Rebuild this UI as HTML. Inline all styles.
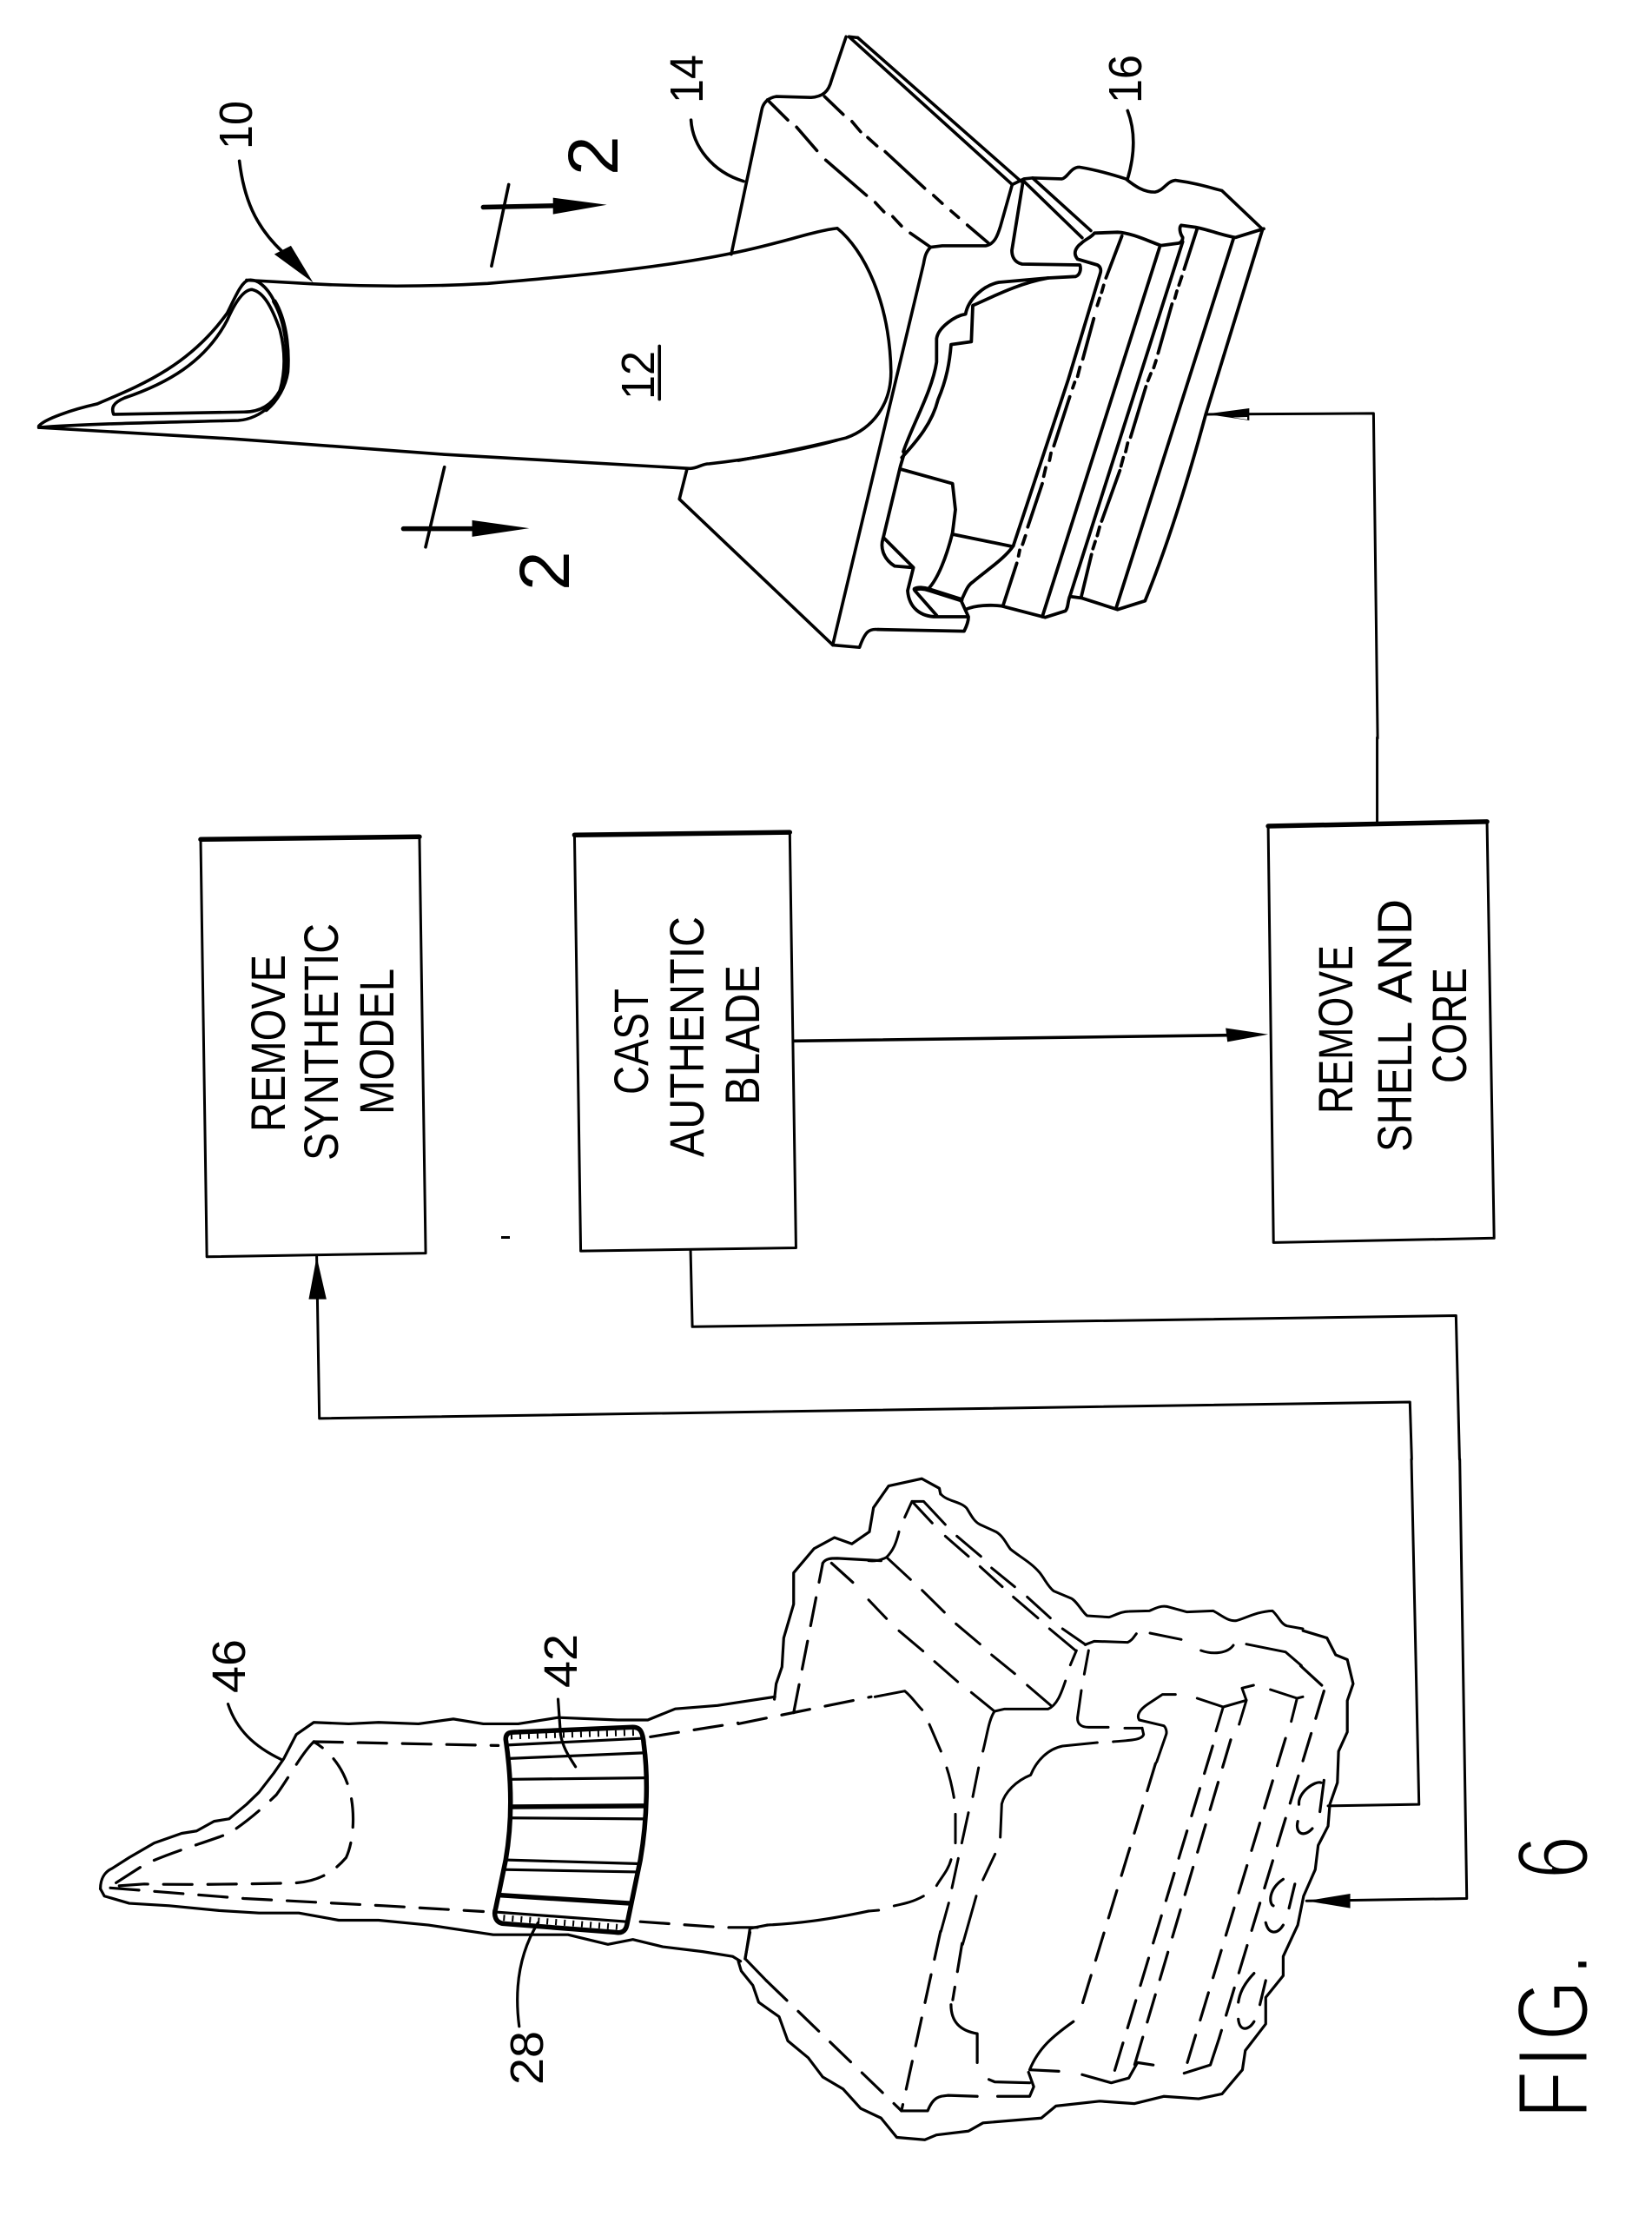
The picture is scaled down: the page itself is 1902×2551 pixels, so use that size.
<!DOCTYPE html>
<html>
<head>
<meta charset="utf-8">
<style>
html,body{margin:0;padding:0;background:#fff;width:1902px;height:2551px;overflow:hidden}
svg{display:block}
path,line,polyline{fill:none;stroke:#000;stroke-width:var(--w,3.6);stroke-linejoin:round;stroke-linecap:round;vector-effect:non-scaling-stroke}
.t{stroke-width:5.5}
.c{stroke-width:3}
.d{stroke-dasharray:33 18}
.h{stroke-width:7;stroke-dasharray:2 8;stroke-linecap:butt}
polygon{fill:#000;stroke:none}
text{font-family:"Liberation Sans",sans-serif;fill:#000}
.l{font-size:56px}
.n{font-size:54px}
</style>
</head>
<body>
<svg width="1902" height="2551" viewBox="0 0 1902 2551" xmlns="http://www.w3.org/2000/svg">
<rect width="1902" height="2551" fill="#fff"/>

<!-- Authentic blade, airfoil part -->
<g transform="scale(.638,.542)">
<path d="M445 595 L565 603 C650 608 760 610 880 602 C1000 590 1180 572 1320 538 C1400 520 1470 490 1510 485"/>
<path d="M70 908 L420 932 L800 965 L1245 995 C1260 995 1265 985 1280 985 C1360 975 1450 955 1510 935"/>
<path d="M70 905 C80 890 130 870 175 858 C250 820 340 780 410 665 C425 630 435 600 448 595 C462 592 480 605 495 640 C520 690 520 760 518 790 C510 850 470 890 430 893 C300 897 150 900 70 908 Z"/>
<path d="M205 880 C200 865 205 855 225 845 C300 815 370 770 410 680 C425 640 440 615 455 615 C475 620 490 650 505 700 C515 745 515 790 505 830 C490 860 470 875 440 875 L210 880 Z"/>
<path class="t" d="M495 640 C520 690 520 760 518 790 C514 820 500 850 480 870"/>
<path d="M432 342 C440 420 460 480 510 535"/>
<polygon points="495,540 525,522 565,600"/>
<path d="M1247 255 C1250 310 1285 365 1342 385"/>
<path d="M1240 995 L1226 1060 L1503 1370"/>
<path d="M918 392 L887 565"/>
<path class="t" d="M872 440 L1000 437"/>
<polygon points="1095,435 998,420 998,455"/>
<path d="M802 992 L768 1162"/>
<path class="t" d="M728 1123 L855 1123"/>
<polygon points="955,1122 852,1105 852,1140"/>
<line x1="1190" y1="735" x2="1190" y2="848"/>
</g>

<!-- Authentic blade, platform -->
<g transform="translate(850,0) scale(.671,.542)">
<path d="M170 485 C215 530 260 640 262 790 C262 860 230 910 185 930 C120 950 60 965 0 978"/>
<path d="M190 78 L470 392"/>
<path d="M205 80 L485 385"/>
<path d="M190 78 L205 80"/>
<path d="M185 78 L160 170 C155 195 145 205 125 207 L65 205 C50 208 42 220 40 235 L-12 540"/>
<path d="M50 212 L85 255 M100 270 L135 320 M150 340 L220 415 M235 430 L250 450 M265 460 L280 480 M295 495 L330 525"/>
<path d="M148 205 L180 243 M195 258 L210 280 M222 292 L238 310 M252 322 L320 400 M335 415 L350 432 M365 448 L378 462 M393 478 L430 517"/>
<path d="M330 525 C322 535 320 545 318 560 L162 1370 L208 1375 C218 1340 225 1335 240 1337"/>
<path d="M330 525 L350 522 L425 522 C440 518 445 500 450 480 L470 392"/>
<path d="M470 392 L490 380 L505 378 L555 380 C565 378 570 355 585 355 C610 360 640 370 665 380 C680 395 695 408 715 408 C730 405 735 385 750 383 C780 388 800 395 830 405 L898 485"/>
<path d="M490 385 L590 505"/>
<path d="M505 378 L605 490"/>
<path d="M668 235 C682 280 680 330 668 380"/>
<path class="c" d="M805 880 L1090 878 L1097 1568"/>
</g>

<!-- Authentic blade, root (traced) -->
<g transform="translate(1000,230) scale(.33333)" style="--w:3.8">
<path d="M1365 100 L1268 130 C1230 125 1180 105 1130 95 L1080 88 C1072 95 1075 115 1085 130 C1085 140 1080 148 1070 150 L1010 158 C960 140 910 115 860 112 L780 115 C770 130 750 135 735 150 C715 165 705 185 722 205 L790 225 C800 230 805 240 800 255 L690 620 L500 1195"/>
<path d="M875 125 L820 270 M812 295 L805 320 M798 340 L790 365 M778 410 L740 550 M730 578 L722 610 M712 630 L705 650 M695 680 L640 850 M630 875 L625 900 M612 925 L605 955 M600 980 L550 1130 M542 1160 L532 1190 M522 1210 L518 1230 M512 1255 L465 1400"/>
<path d="M1005 165 L600 1440"/>
<path d="M1085 145 L695 1370"/>
<path d="M1135 100 L1090 240 M1082 265 L1072 295 M1065 315 L1058 340 M1048 360 L1000 530 M993 555 L985 580 M975 600 L965 625 M958 645 L905 820 M895 840 L888 870 M880 890 L872 920 M868 935 L805 1110 M798 1130 L790 1160 M783 1180 L775 1205 M770 1225 L735 1370"/>
<path d="M1260 135 L855 1410"/>
<path d="M1360 105 L1165 740 C1100 980 1030 1200 955 1385 L860 1415 L735 1375 L695 1370 C688 1385 690 1410 680 1420 L610 1442 L460 1403 C420 1398 370 1400 335 1415"/>
<path d="M500 1195 C470 1240 400 1285 360 1320 C345 1330 340 1340 320 1385 L345 1440 C345 1460 335 1480 330 1490 L33 1484"/>
<path class="t" d="M160 1345 C170 1340 190 1340 210 1347 L320 1382"/>
<path d="M160 1350 L235 1435"/>
<path d="M55 1170 L155 1270 L135 1350 C140 1410 180 1440 235 1440 L340 1440"/>
<path d="M50 1170 C40 1200 50 1240 90 1265 L150 1270"/>
<path d="M205 1345 C240 1310 270 1230 290 1150 L300 1070 L290 980 L110 930"/>
<path d="M290 1155 L495 1197"/>
<path d="M50 1170 L110 920 L125 870"/>
<path d="M115 890 C170 830 220 770 240 690 C270 620 280 560 285 500 L355 490 L360 365 C420 340 510 290 620 270 L715 265 C730 260 735 240 730 225 L530 222 C500 215 495 190 495 175 L533 -60"/>
<path d="M120 870 C150 780 220 660 235 560 L235 480 C240 440 300 400 335 395 C345 340 400 295 450 285 L620 270"/>
<polygon points="1165,740 1315,720 1315,762"/>
<polygon points="1258,752 1308,750 1308,759" style="fill:#fff"/>
</g>

<!-- Flow chart -->
<g transform="translate(180,900) scale(1.02,.51)">
<path class="c" d="M50 130 L297 124 L304 1064 L57 1072 Z"/>
<path class="t" d="M50 130 L297 124"/>
<path class="c" d="M472 120 L715 114 L722 1052 L479 1059 Z"/>
<path class="t" d="M472 120 L715 114"/>
<path class="c" d="M1255 100 L1502 90 L1510 1030 L1261 1040 Z"/>
<path class="t" d="M1255 100 L1502 90"/>
<path class="c" d="M1378 -100 L1378 95"/>
<path d="M720 585 L1210 572"/>
<polygon points="1255,570 1207,556 1209,587"/>
<path class="c" d="M603 1058 L605 1230 L1467 1205 L1471 1529"/>
<path class="c" d="M181 1072 L184 1437 L1415 1400 L1417 1529"/>
<polygon points="181,1072 172,1168 192,1168"/>
</g>
<rect x="577" y="1423" width="10" height="3" fill="#000"/>

<!-- Coated model, left portion -->
<g transform="translate(80,1680) scale(.574,.5555)" style="--w:3.2">
<path d="M62 890 C62 870 70 855 85 848 L120 825 L170 795 L225 775 L255 770 L290 750 L320 745 L355 715 L380 690 L410 650 L430 620 L455 570 L490 545 L560 548 L620 545 L700 548 L770 538 L830 548 L900 548 L980 535 L1100 540 L1160 540 L1215 517 L1300 510 L1415 492"/>
<path d="M62 890 L70 905 L120 920 L200 925 L300 935 L380 940 L460 940 L540 955 L620 955 L720 965 L850 985 L940 985 L1000 985 L1080 1005 L1130 995 L1190 1010 L1270 1020 L1330 1030 L1346 1040"/>
<path class="d" d="M490 585 C465 610 440 660 415 695 C380 730 350 755 320 775 C270 795 200 815 150 840 L82 885 L150 880 C250 882 350 880 450 878 C500 875 530 855 555 825 C570 790 572 740 565 700 C555 650 530 610 490 585"/>
<path class="d" d="M490 585 L860 593"/>
<path class="d" d="M82 888 L350 910 L630 925 L830 937"/>
<path class="d" d="M1165 575 L1341 546"/>
<path class="d" d="M1145 958 L1310 970 L1390 970"/>
<path d="M1365 980 L1355 1035"/>
<path d="M318 507 C335 560 370 595 425 622"/>
<path d="M980 497 L985 570 C990 600 1005 620 1015 637"/>
<path d="M940 960 C910 1010 890 1080 902 1175"/>
<path class="t" d="M875 580 C875 565 885 565 900 565 L1130 555 C1145 555 1150 565 1152 590 C1160 650 1160 740 1145 830 L1118 965 C1115 980 1105 982 1095 980 L870 962 C855 960 850 945 855 930 L875 830 C890 740 885 650 875 580 Z"/>
<path d="M878 592 L1150 578"/>
<path d="M880 620 L1155 608"/>
<path d="M885 663 L1155 660"/>
<path class="t" d="M885 720 L1155 718"/>
<path d="M885 743 L1155 745"/>
<path d="M875 830 L1145 838"/>
<path d="M870 850 L1140 855"/>
<path class="t" d="M862 903 L1125 920"/>
<path d="M855 938 L1118 958"/>
<path class="h" d="M885 574 L1145 566"/>
<path class="h" d="M870 950 L1110 970"/>
</g>

<!-- Coated model, right portion -->
<g transform="translate(850,1680) scale(.671,.5555)" style="--w:3.2">
<path d="M62 497 L65 465 L75 430 L78 370 L95 300 L95 235 L130 185 L165 162 L195 175 L225 150 L232 100 L258 55 L315 40 L345 60 L347 72"/>
<path d="M969 355 L1010 370 L1025 405 L1045 415 L1055 465 L1045 500 L1045 565 L1030 605 L1028 670 L1015 715 L1012 760 L995 800 L990 850 L970 905 L960 965 L935 1030 L935 1070 L905 1115 L905 1170 L870 1225 L865 1265 L830 1315 L790 1325 L730 1320 L680 1335 L620 1330 L545 1340 L520 1365 L420 1375 L395 1392 L340 1400 L320 1410 L272 1405 L245 1365 L210 1345 L180 1305 L145 1280 L120 1240 L85 1205 L70 1155 L35 1125 L25 1090 L5 1060 L0 1040"/>
<path class="d" d="M95 525 L145 215"/>
<path d="M145 215 C150 205 160 205 170 205 L245 210"/>
<path class="d" d="M160 215 L215 275"/>
<path class="d" d="M0 548 L228 492"/>
<path class="d" d="M347 978 L280 1350"/>
<path d="M280 1350 L325 1350 C335 1320 345 1320 360 1318 L410 1320"/>
<path d="M445 1320 L500 1320 L507 1300 L498 1270"/>
<path class="d" d="M965 428 L1010 478"/>
<path class="d" d="M716 630 L585 1150"/>
<path class="d" d="M384 1003 L368 1120"/>
<path d="M365 1130 C365 1170 385 1185 410 1190 L410 1250"/>
<path d="M430 1285 L440 1290 L500 1292"/>
<path d="M575 1165 C540 1195 515 1220 500 1265 L550 1268"/>
<path d="M590 1275 L640 1292 L670 1282 L685 1250 L712 1255"/>
<path d="M765 1272 L810 1255 L825 1200"/>
<path class="d" d="M814 594 L640 1290"/>
<path class="d" d="M845 581 L680 1255"/>
<path class="d" d="M939 578 L765 1272"/>
<path class="d" d="M1005 480 L825 1200"/>
<path d="M224 936 C150 955 100 962 50 965"/>
<path d="M50 965 L20 972 L12 1035 L48 1080"/>
<path class="d" d="M48 1080 L280 1350"/>
<path d="M1000 670 C990 665 960 690 962 715"/>
<path d="M1005 665 L998 730"/>
<path d="M960 750 C955 775 970 785 985 765"/>
<path d="M935 870 C910 890 910 920 918 925"/>
<path d="M955 880 L945 930"/>
<path d="M905 960 C910 985 925 985 935 965"/>
<path d="M885 1065 C865 1090 860 1110 858 1125"/>
<path d="M905 1080 L895 1130"/>
<path d="M858 1160 C860 1185 875 1185 885 1165"/>
<path class="c" d="M1012 718 L1168 715 L1155 0"/>
<path class="c" d="M975 915 L1250 910 L1238 0"/>
<polygon points="975,915 1050,900 1050,930"/>
</g>

<!-- Coated model, platform detail (traced) -->
<g transform="translate(1000,1720) scale(.33333)" style="--w:3">
<path d="M250 0 C270 25 320 25 340 50 C355 75 365 95 385 105 L440 130 C465 145 475 170 490 190 C520 215 560 235 590 270 C610 295 620 320 640 335 L700 360 C720 370 740 410 755 420 L830 425 C850 420 870 405 900 405 L970 403 C990 395 1005 385 1030 388 L1100 407 L1190 403 C1215 415 1240 440 1270 437 C1300 430 1340 405 1395 403 C1415 420 1425 450 1445 455 L1500 465"/>
<path d="M125 80 L150 25 L190 25 L265 105 M150 25 L220 100"/>
<path d="M265 145 L345 215 M305 145 L388 215 M385 250 L462 320 M425 255 L505 320 M500 355 L585 428 M548 355 L628 428 M625 465 L715 540 M670 465 L750 520"/>
<path d="M105 130 C95 170 85 195 62 218 C40 230 20 232 0 230"/>
<path d="M62 218 L145 295 M185 332 L262 408 M302 448 L385 518 M425 555 L505 620 M548 660 L630 730"/>
<path d="M0 365 L62 430 M105 472 L188 542 M228 578 L308 648 M355 685 L435 750"/>
<path d="M435 750 L470 742 L620 742 C650 730 665 690 680 645"/>
<path d="M435 750 C415 780 410 830 395 888"/>
<path d="M718 540 L697 590 M760 540 L745 622"/>
<path d="M748 520 L780 508 L895 512 C910 505 915 495 925 482"/>
<path d="M972 480 L1080 502 M1148 540 C1190 555 1240 550 1260 522 M1305 518 L1440 545 L1495 592"/>
<path d="M735 678 L722 770 C720 790 730 805 760 805 L828 805 M885 808 L945 808"/>
<path d="M1060 692 L1015 692 L965 725 C935 745 925 765 935 780 L1020 800 C1030 810 1030 825 1028 830 L995 925"/>
<path d="M945 808 L950 830 C945 850 900 850 845 855"/>
<path d="M790 858 L670 870 C620 880 580 920 560 970 C510 990 470 1030 460 1070 L455 1185"/>
<path d="M1135 705 L1225 735 L1305 712 L1290 670 L1330 660"/>
<path d="M1225 735 L1200 818 M1305 712 L1280 795"/>
<path d="M1388 675 L1480 705 L1500 700 M1480 705 L1460 785"/>
<path d="M22 700 L125 680 C150 700 165 725 185 745"/>
<path d="M210 795 L250 888 M270 945 C285 990 290 1020 295 1048 M300 1105 L300 1205"/>
<path d="M380 945 L360 1045 M345 1100 L322 1205"/>
<path d="M285 1262 C275 1300 250 1325 235 1352 M310 1258 L288 1360 M437 1243 L395 1332"/>
<path d="M190 1388 C150 1410 120 1415 88 1422 M35 1437 L0 1440"/>
<path d="M277 1412 L250 1510 M372 1388 L325 1555"/>
</g>

<!-- Labels -->
<text class="n" transform="translate(290,172) rotate(-90)" textLength="56" lengthAdjust="spacingAndGlyphs">10</text>
<text class="n" transform="translate(809,119) rotate(-90)" textLength="56" lengthAdjust="spacingAndGlyphs">14</text>
<text class="n" transform="translate(753,460) rotate(-90)" textLength="56" lengthAdjust="spacingAndGlyphs">12</text>
<text class="n" transform="translate(1314,119) rotate(-90)" textLength="56" lengthAdjust="spacingAndGlyphs">16</text>
<text style="font-size:82px" transform="translate(711,202) rotate(-90)">2</text>
<text style="font-size:82px" transform="translate(655,680) rotate(-90)">2</text>
<text class="n" transform="translate(282,1949) rotate(-90)" textLength="62" lengthAdjust="spacingAndGlyphs">46</text>
<text class="n" transform="translate(664,1943) rotate(-90)" textLength="62" lengthAdjust="spacingAndGlyphs">42</text>
<text class="n" transform="translate(625,2400) rotate(-90)" textLength="62" lengthAdjust="spacingAndGlyphs">28</text>

<text class="l" transform="translate(328,1303) rotate(-90)" textLength="204" lengthAdjust="spacingAndGlyphs">REMOVE</text>
<text class="l" transform="translate(389,1336) rotate(-90)" textLength="273" lengthAdjust="spacingAndGlyphs">SYNTHETIC</text>
<text class="l" transform="translate(453,1283) rotate(-90)" textLength="168" lengthAdjust="spacingAndGlyphs">MODEL</text>
<text class="l" transform="translate(746,1260) rotate(-90)" textLength="122" lengthAdjust="spacingAndGlyphs">CAST</text>
<text class="l" transform="translate(810,1332) rotate(-90)" textLength="277" lengthAdjust="spacingAndGlyphs">AUTHENTIC</text>
<text class="l" transform="translate(874,1272) rotate(-90)" textLength="161" lengthAdjust="spacingAndGlyphs">BLADE</text>
<text class="l" transform="translate(1557,1282) rotate(-90)" textLength="194" lengthAdjust="spacingAndGlyphs">REMOVE</text>
<text class="l" transform="translate(1625,1326) rotate(-90)" textLength="150" lengthAdjust="spacingAndGlyphs">SHELL</text>
<text class="l" transform="translate(1625,1155) rotate(-90)" textLength="120" lengthAdjust="spacingAndGlyphs">AND</text>
<text class="l" transform="translate(1688,1247) rotate(-90)" textLength="133" lengthAdjust="spacingAndGlyphs">CORE</text>

<text style="font-size:116px;stroke:#fff;stroke-width:3" transform="translate(1828,2432) rotate(-90) scale(.78,1)" x="-9 66.5 106 202.5 300 344.5">FIG. 6</text>
</svg>
</body>
</html>
